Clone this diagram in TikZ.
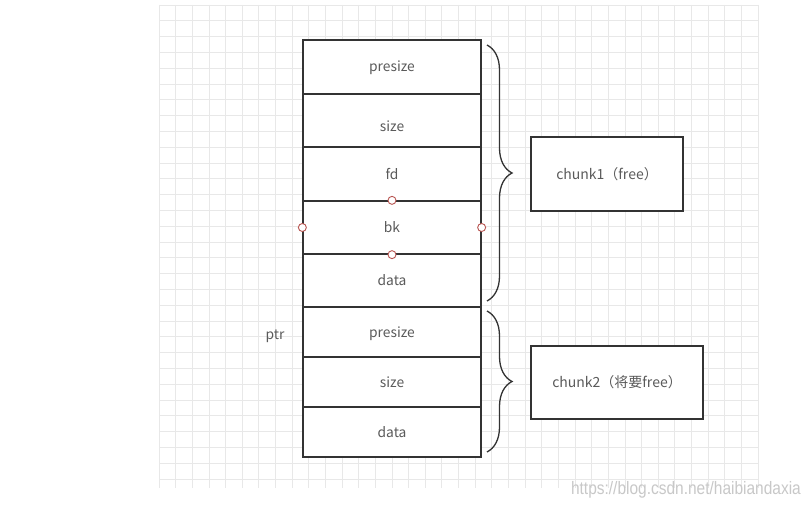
\documentclass[tikz,border=0pt]{standalone}
\usepackage{fontspec}
\setmainfont{Noto Sans CJK SC}
\newfontfamily\wmfont{Liberation Sans}
\usetikzlibrary{decorations.pathreplacing}
\definecolor{gridc}{HTML}{E8E8E8}
\definecolor{linec}{HTML}{333333}
\definecolor{txtc}{HTML}{5A5A5A}
\definecolor{ptc}{HTML}{B85450}
\definecolor{wmc}{HTML}{C8C8C8}
\tikzset{
  cell/.style={draw=linec, line width=1.3pt, fill=white, rectangle, inner sep=0pt,
    minimum width=178pt, text=txtc, font=\fontsize{13.8}{16}\selectfont,
    text height=11pt, text depth=1pt},
  tagbox/.style={draw=linec, line width=1.3pt, fill=white, rectangle, inner sep=0pt,
    text=txtc, font=\fontsize{14}{16}\selectfont},
  pt/.style={circle, draw=ptc, fill=white, line width=0.9pt, minimum size=8pt, inner sep=0pt},
  bracestyle/.style={draw=linec, line width=1.3pt,
    decorate, decoration={brace, amplitude=25pt, aspect=0.5}},
  lbl/.style={text=txtc, font=\fontsize{13.8}{16}\selectfont, inner sep=0pt}
}
\begin{document}
\begin{tikzpicture}[x=1pt,y=-1pt]
\useasboundingbox (0,0) rectangle (808,508);
\fill[white] (0,0) rectangle (808,508);
% grid
\foreach \i in {0,...,36} {
  \draw[gridc, line width=0.8pt] ({159+\i*16.64},5) -- ({159+\i*16.64},488);
}
\foreach \j in {0,...,30} {
  \draw[gridc, line width=0.8pt] (159,{5+\j*15.8}) -- (758,{5+\j*15.8});
}
% cells
\node[cell, minimum height=54pt] (c1) at (392,67) {presize};
\node[cell, minimum height=53pt, label={[lbl, yshift=-6pt]center:size}] (c2) at (392,120.5) {};
\node[cell, minimum height=54pt] (c3) at (392,174) {fd};
\node[cell, minimum height=53pt] (c4) at (392,227.5) {bk};
\node[cell, minimum height=53pt] (c5) at (392,280.5) {data};
\node[cell, minimum height=50pt] (c6) at (392,332) {presize};
\node[cell, minimum height=50pt] (c7) at (392,382) {size};
\node[cell, minimum height=50pt] (c8) at (392,432) {data};
% connection points
\node[pt] (p1) at (c4.north) {};
\node[pt] (p2) at (c4.south) {};
\node[pt] (p3) at (c4.west) {};
\node[pt] (p4) at (c4.east) {};
% tags
\node[tagbox, minimum width=152pt, minimum height=74pt] (t1) at (607,174) {chunk1（free）};
\node[tagbox, minimum width=172pt, minimum height=73pt] (t2) at (617,382.5) {chunk2（将要free）};
\node[lbl] (ptr) at (275,336) {ptr};
% braces
\coordinate (b1s) at (487,45);
\coordinate (b1e) at (487,301);
\coordinate (b2s) at (487,311);
\coordinate (b2e) at (487,452);
\draw[bracestyle] (b1s) -- (b1e);
\draw[bracestyle] (b2s) -- (b2e);
% watermark
\node[text=wmc, font=\wmfont\fontsize{18}{20}\selectfont, inner sep=0pt, anchor=east, xscale=0.86] (wm) at (801,490) {https://blog.csdn.net/haibiandaxia};
\end{tikzpicture}
\end{document}
